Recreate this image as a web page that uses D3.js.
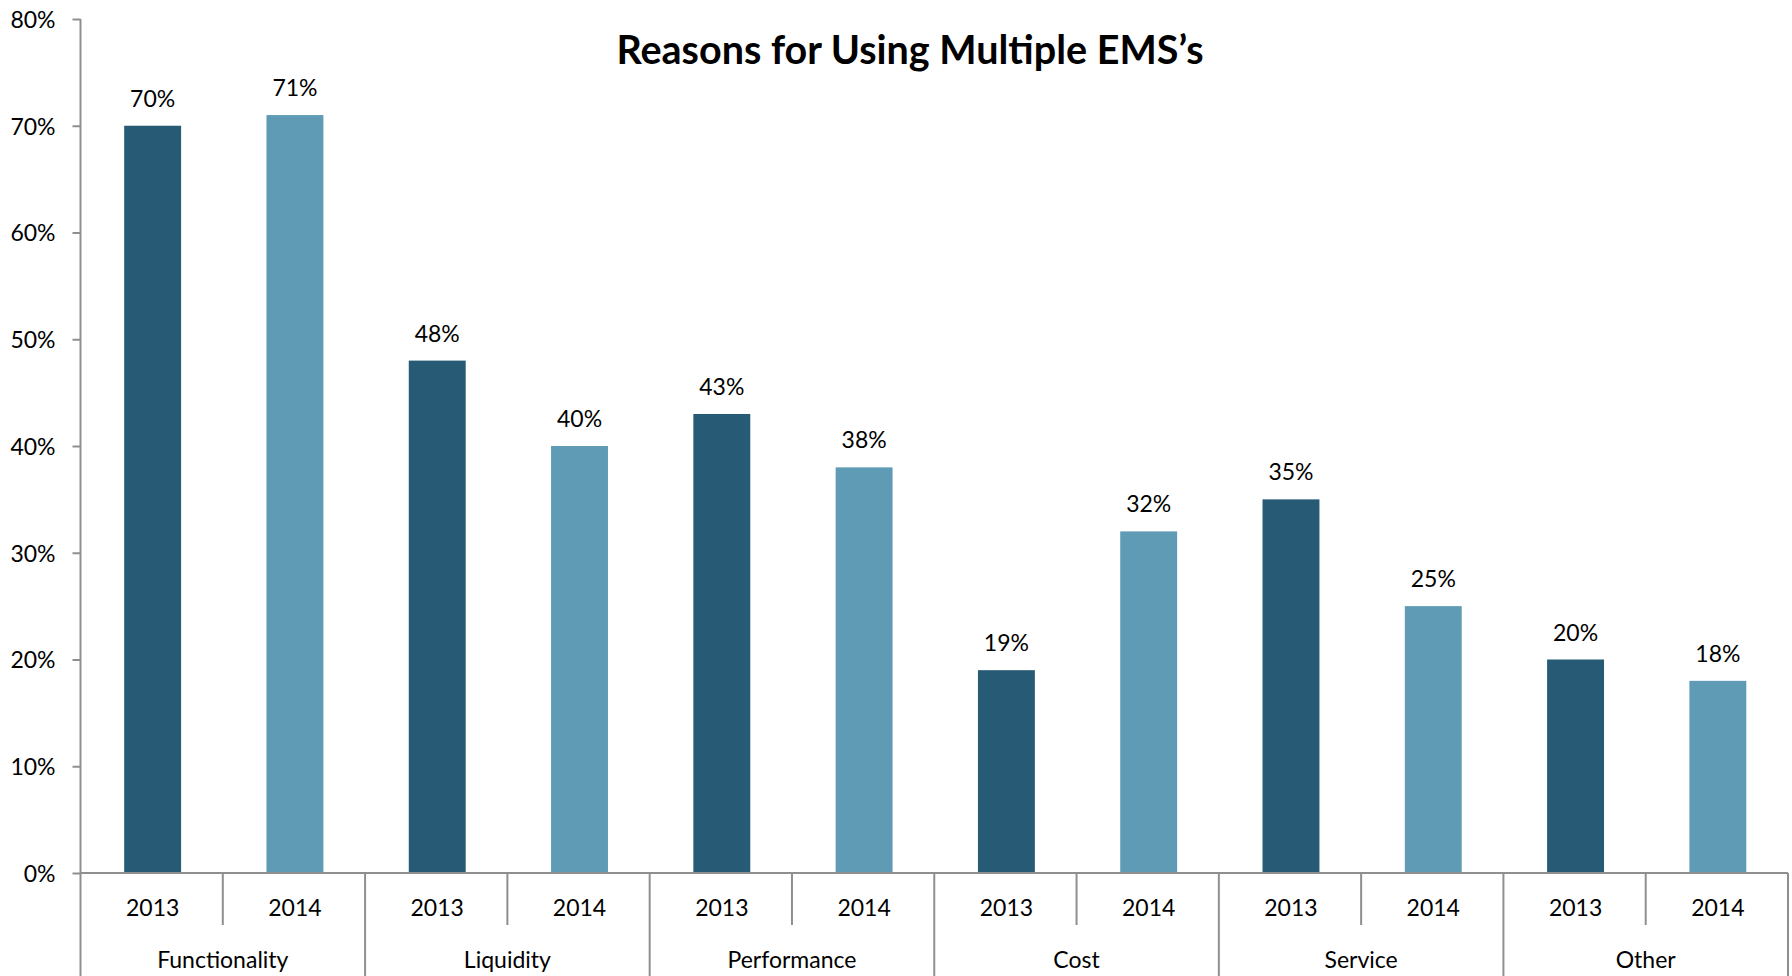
<!DOCTYPE html>
<html>
<head>
<meta charset="utf-8">
<script src="https://cdn.jsdelivr.net/npm/d3@7"></script>
<style>
  html, body { margin: 0; padding: 0; background: #fff; }
  svg { display: block; }
  text { font-family: Lato, "Open Sans", sans-serif; fill: #000; }
</style>
</head>
<body>
<svg id="chart" width="1792" height="976"></svg>
<script>
const categories = ["Functionality", "Liquidity", "Performance", "Cost", "Service", "Other"];
const years = ["2013", "2014"];
const values2013 = [70, 48, 43, 19, 35, 20];
const values2014 = [71, 40, 38, 32, 25, 18];
const yTicks = [0, 10, 20, 30, 40, 50, 60, 70, 80];
const title = "Reasons for Using Multiple EMS\u2019s";
const colors = { "2013": "#265A75", "2014": "#609BB6" };

(function () {
const svg = d3.select("#chart");
const W = 1792, H = 976;
const mLeft = 80.5, mRight = 1788, mTop = 19, mBottom = 873;
const axisColor = "#8f8f8f";

const x = d3.scaleBand().domain(categories).range([mLeft, mRight]).padding(0);
const xs = d3.scaleBand().domain(years).range([0, x.bandwidth()]).padding(0);
const y = d3.scaleLinear().domain([0, 80]).range([mBottom, mTop]);

const rows = categories.map((c, i) => ({
  cat: c,
  vals: [{ year: "2013", v: values2013[i] }, { year: "2014", v: values2014[i] }]
}));

const barW = xs.bandwidth() * 0.40;

const g = svg.append("g");
const groups = g.selectAll("g.cat").data(rows).join("g")
  .attr("transform", d => `translate(${x(d.cat)},0)`);

groups.selectAll("rect").data(d => d.vals).join("rect")
  .attr("x", d => xs(d.year) + xs.bandwidth() / 2 - barW / 2 + 1)
  .attr("width", barW)
  .attr("y", d => y(d.v))
  .attr("height", d => y(0) - y(d.v))
  .attr("fill", d => colors[d.year]);

groups.selectAll("text.lbl").data(d => d.vals).join("text")
  .attr("class", "lbl")
  .attr("x", d => xs(d.year) + xs.bandwidth() / 2 + 1)
  .attr("y", d => y(d.v) - 19)
  .attr("text-anchor", "middle")
  .style("font-size", "23px")
  .text(d => d.v + "%");

const yAxis = d3.axisLeft(y).tickValues(yTicks).tickSize(8).tickPadding(17)
  .tickFormat(d => d + "%");
const ya = svg.append("g").attr("transform", `translate(${mLeft},0)`).call(yAxis);
ya.select(".domain").remove();
ya.selectAll(".tick line").attr("stroke", axisColor).attr("stroke-width", 2);
ya.selectAll(".tick text").style("font-size", "23px").style("font-family", "Lato, sans-serif")
  .attr("fill", "#000").attr("dy", "0.36em");
svg.append("line").attr("x1", mLeft).attr("x2", mLeft).attr("y1", mTop).attr("y2", H)
  .attr("stroke", axisColor).attr("stroke-width", 2);

svg.append("line").attr("x1", mLeft).attr("x2", mRight).attr("y1", mBottom).attr("y2", mBottom)
  .attr("stroke", axisColor).attr("stroke-width", 2);

const bounds = categories.map(c => x(c) + x.bandwidth());
svg.selectAll("line.sep").data(bounds).join("line").attr("class", "sep")
  .attr("x1", d => d).attr("x2", d => d).attr("y1", mBottom).attr("y2", H)
  .attr("stroke", axisColor).attr("stroke-width", 2);

svg.selectAll("line.sub").data(categories).join("line").attr("class", "sub")
  .attr("x1", d => x(d) + xs("2014")).attr("x2", d => x(d) + xs("2014"))
  .attr("y1", mBottom).attr("y2", 925)
  .attr("stroke", axisColor).attr("stroke-width", 2);

const yearLabels = [];
categories.forEach(c => years.forEach(yr => yearLabels.push({ c, yr })));
svg.selectAll("text.yr").data(yearLabels).join("text").attr("class", "yr")
  .attr("x", d => x(d.c) + xs(d.yr) + xs.bandwidth() / 2 + 1)
  .attr("y", 916)
  .attr("text-anchor", "middle")
  .style("font-size", "23px")
  .text(d => d.yr);

svg.selectAll("text.cat").data(categories).join("text").attr("class", "cat")
  .attr("x", d => x(d) + x.bandwidth() / 2)
  .attr("y", 968)
  .attr("text-anchor", "middle")
  .style("font-size", "23px")
  .text(d => d);

svg.append("text")
  .attr("x", 910).attr("y", 64)
  .attr("text-anchor", "middle")
  .style("font-size", "39.5px").style("font-weight", "bold")
  .text(title);
})();
</script>
</body>
</html>
